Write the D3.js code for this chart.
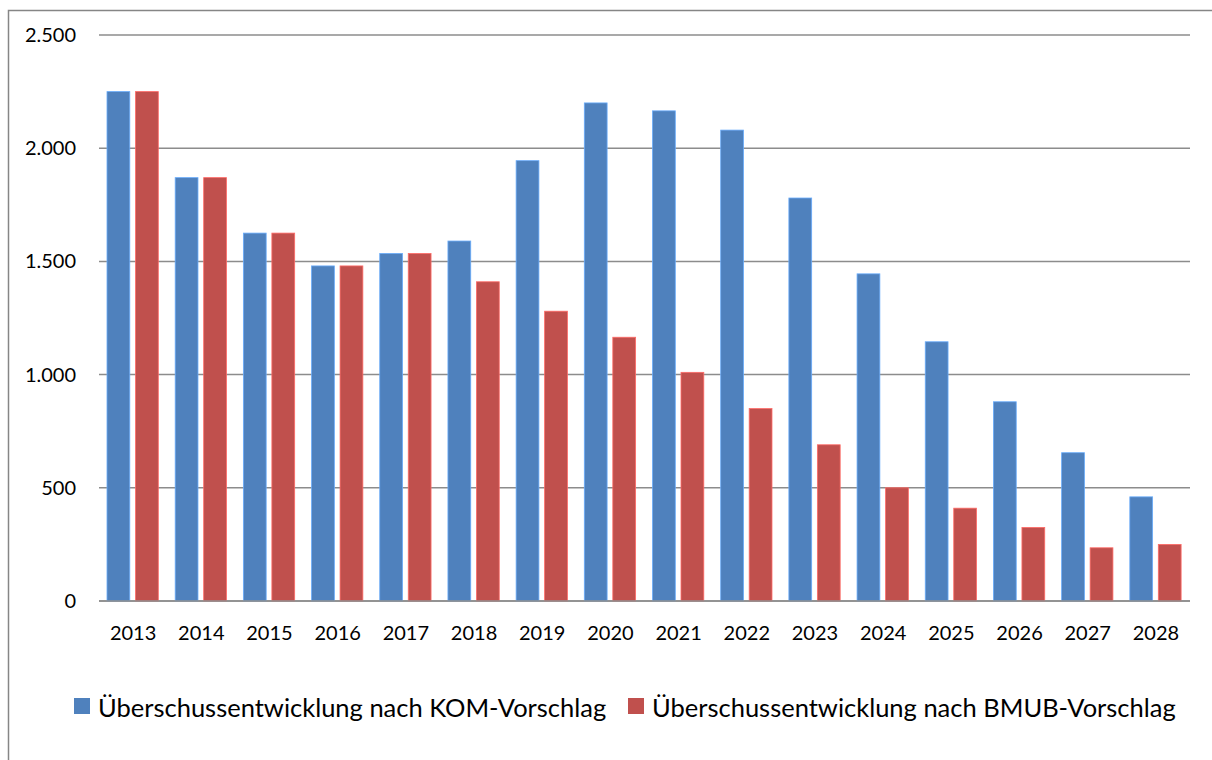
<!DOCTYPE html>
<html><head><meta charset="utf-8">
<script src="https://cdn.jsdelivr.net/npm/d3@7/dist/d3.min.js"></script>
<style>body{margin:0;background:#fff}svg{display:block}</style>
</head><body><svg id="c" width="1212" height="760"></svg>
<script>
const years = ["2013","2014","2015","2016","2017","2018","2019","2020","2021","2022","2023","2024","2025","2026","2027","2028"];
const komValues  = [2250,1870,1625,1480,1535,1590,1945,2200,2165,2080,1780,1445,1145,880,655,460];
const bmubValues = [2250,1870,1625,1480,1535,1410,1280,1165,1010,850,690,500,410,325,235,250];
const seriesNames = ["Überschussentwicklung nach KOM-Vorschlag","Überschussentwicklung nach BMUB-Vorschlag"];
const seriesColors = ["#4F81BD","#C0504D"];
const yTicks = [0,500,1000,1500,2000,2500];
const yTickLabels = ["0","500","1.000","1.500","2.000","2.500"];

const svg = d3.select("#c");
const font = "Lato, 'Open Sans', sans-serif";
const L=99, R=1190, T=35, B=601;

svg.append("rect").attr("x",8.5).attr("y",10.5).attr("width",1220).attr("height",800)
  .attr("fill","none").attr("stroke","#868686").attr("stroke-width",1.5);

const x = d3.scaleBand().domain(years).range([L,R]).padding(0);
const inner = d3.scaleBand().domain([0,1]).range([8,8+51.3]).paddingInner(0.2).paddingOuter(0);
const y = d3.scaleLinear().domain([0,2500]).range([B,T]);

svg.append("g").selectAll("line").data(yTicks).join("line")
  .attr("x1",L).attr("x2",R).attr("y1",d=>y(d)).attr("y2",d=>y(d))
  .attr("stroke","#8c8c8c").attr("stroke-width",1.5);

svg.append("g").selectAll("text").data(yTicks).join("text")
  .attr("x",76).attr("y",d=>y(d)+7).attr("text-anchor","end")
  .attr("font-family",font).attr("font-size",20).attr("fill","#000")
  .text((d,i)=>yTickLabels[i]);

const data = [komValues,bmubValues];
data.forEach((vals,si)=>{
  svg.append("g").selectAll("rect").data(vals).join("rect")
    .attr("x",(d,i)=>x(years[i])+inner(si))
    .attr("width",inner.bandwidth())
    .attr("y",d=>y(d))
    .attr("height",d=>y(0)-y(d))
    .attr("fill",seriesColors[si])
    .attr("stroke",d3.color(seriesColors[si]).brighter(0.8))
    .attr("stroke-width",0.8);
});

svg.append("line").attr("x1",L).attr("x2",R).attr("y1",y(0)).attr("y2",y(0))
  .attr("stroke","#8c8c8c").attr("stroke-width",1.5);

svg.append("g").selectAll("text").data(years).join("text")
  .attr("x",d=>x(d)+x.bandwidth()/2).attr("y",640).attr("text-anchor","middle")
  .attr("font-family",font).attr("font-size",20).attr("fill","#000").text(d=>d);

const legX = [74,628];
seriesNames.forEach((n,i)=>{
  svg.append("rect").attr("x",legX[i]).attr("y",698).attr("width",16).attr("height",16).attr("fill",seriesColors[i]);
  svg.append("text").attr("x",legX[i]+24).attr("y",717).attr("font-family",font)
    .attr("font-size",25.5).attr("fill","#000").text(n);
});
</script></body></html>
